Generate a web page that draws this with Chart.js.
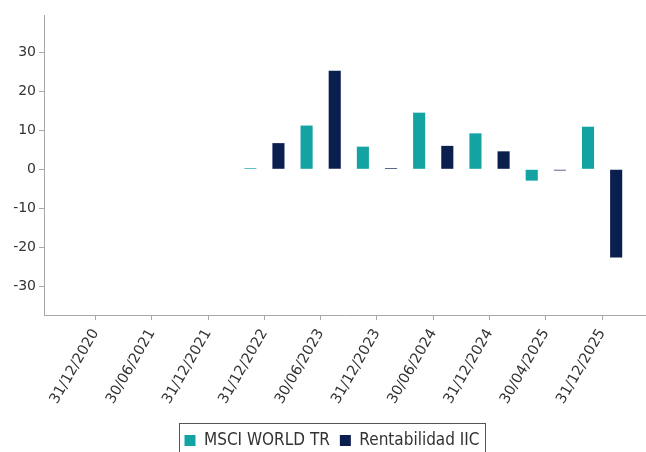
<!DOCTYPE html>
<html>
<head>
<meta charset="utf-8">
<script src="https://cdn.jsdelivr.net/npm/chart.js@4.4.1/dist/chart.umd.min.js"></script>
<style>
  html, body { margin: 0; padding: 0; background: #fff; }
</style>
</head>
<body>
<canvas id="chart" width="646" height="452"></canvas>
<script>
// fechas del eje x
const categories = ['31/12/2020', '30/06/2021', '31/12/2021', '31/12/2022', '30/06/2023',
                    '31/12/2023', '30/06/2024', '31/12/2024', '30/04/2025', '31/12/2025'];
// rentabilidades (%)
const msciWorld = [null, null, null, 0.3, 11.2, 5.8, 14.5, 9.2, -2.9, 10.9];
const rentabilidadIIC = [null, null, null, 6.7, 25.2, 0.3, 6.0, 4.6, -0.3, -22.6];
const yTicks = [-30, -20, -10, 0, 10, 20, 30];

const tickFont = { family: '"DejaVu Sans", sans-serif', size: 14 };
const xTickFont = { family: '"DejaVu Sans", sans-serif', size: 14.5 };
const legendFont = { family: '"DejaVu Sans Condensed", "Liberation Sans Narrow", "DejaVu Sans", sans-serif', size: 17 };
const axisColor = '#a8a8a8';
const textColor = '#333';

const toPoints = arr => arr.map((v, i) => ({ x: i, y: v }));

// leyenda algo más abajo y a la derecha, con marco
const legendFrame = {
    id: 'legendFrame',
    afterLayout(chart) {
        const lg = chart.legend;
        if (!lg) return;
        lg.left += 9; lg.right += 9;
        lg.top += 7; lg.bottom += 7;
    },
    afterDraw(chart) {
        const hb = chart.legend && chart.legend.legendHitBoxes;
        if (!hb || !hb.length) return;
        const last = hb[hb.length - 1];
        const left = Math.round(hb[0].left - 5) + 0.5;
        const right = Math.round(last.left + last.width + 5) + 0.5;
        const top = Math.round(hb[0].top - 9) + 0.5;
        const ctx = chart.ctx;
        ctx.save();
        ctx.strokeStyle = '#555';
        ctx.lineWidth = 1;
        ctx.strokeRect(left, top, right - left, 60);
        ctx.restore();
    }
};

new Chart(document.getElementById('chart'), {
    type: 'bar',
    data: {
        datasets: [
            {
                label: 'MSCI WORLD TR',
                data: toPoints(msciWorld),
                backgroundColor: '#15a2a2',
                borderWidth: 0,
                categoryPercentage: 1.0,
                barPercentage: 0.43,
            },
            {
                label: 'Rentabilidad IIC',
                data: toPoints(rentabilidadIIC),
                backgroundColor: '#0b1f4e',
                borderWidth: 0,
                categoryPercentage: 1.0,
                barPercentage: 0.43,
            },
        ],
    },
    options: {
        responsive: false,
        animation: false,
        layout: { padding: { top: 15, left: 0, right: 0, bottom: 0 } },
        plugins: {
            tooltip: { enabled: false },
            legend: {
                position: 'bottom',
                labels: {
                    font: legendFont,
                    color: textColor,
                    boxWidth: 11,
                    boxHeight: 11,
                    padding: 10,
                },
            },
        },
        scales: {
            x: {
                type: 'linear',
                offset: false,
                min: -0.915,
                max: 9.78,
                afterBuildTicks: s => { s.ticks = categories.map((_, i) => ({ value: i })); },
                ticks: {
                    callback: v => categories[v],
                    minRotation: 60,
                    maxRotation: 60,
                    autoSkip: false,
                    padding: 6,
                    font: xTickFont,
                    color: textColor,
                },
                grid: { offset: false, drawOnChartArea: false, tickLength: 5, color: axisColor },
                border: { color: axisColor },
                afterFit: s => {
                    const lh = s.chart.legend ? s.chart.legend.height : 30;
                    s.height = 452 - 315 - lh;
                },
            },
            y: {
                min: -37.3,
                max: 39.5,
                afterBuildTicks: s => { s.ticks = yTicks.map(v => ({ value: v })); },
                ticks: { font: tickFont, color: textColor, padding: 3 },
                grid: { drawOnChartArea: false, tickLength: 5, color: axisColor },
                border: { color: axisColor },
                afterFit: s => { s.width = 44; },
            },
        },
    },
    plugins: [legendFrame],
});
</script>
</body>
</html>
